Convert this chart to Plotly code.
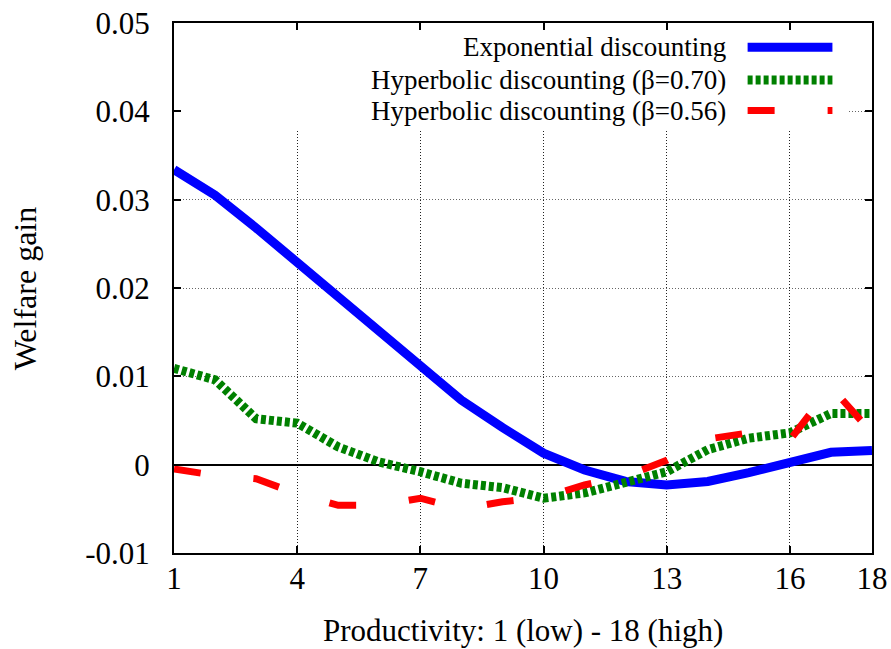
import plotly.graph_objects as go

productivity = list(range(1, 19))
exponential = [0.0334, 0.0305, 0.0268, 0.0229, 0.0189, 0.0149, 0.0111, 0.0073, 0.0042,
               0.0013, -0.0006, -0.0019, -0.0023, -0.0019, -0.0009, 0.0002, 0.0014, 0.0016]
hyper_070 = [0.0109, 0.0096, 0.0052, 0.0047, 0.0020, 0.0003, -0.0008, -0.0021, -0.0026,
             -0.0038, -0.0032, -0.0021, -0.0008, 0.0017, 0.0030, 0.0036, 0.0058, 0.0058]
hyper_056 = [-0.0005, -0.0012, -0.0016, -0.0033, -0.0046, -0.0046, -0.0038, -0.0050, -0.0042,
             -0.0037, -0.0023, -0.0013, 0.0005, 0.0029, 0.0036, 0.0028, 0.0088, 0.0036]
series_names = ["Exponential discounting", "Hyperbolic discounting (β=0.70)",
                "Hyperbolic discounting (β=0.56)"]
x_ticks = [1, 4, 7, 10, 13, 16, 18]
y_ticks = [-0.01, 0, 0.01, 0.02, 0.03, 0.04, 0.05]
y_tick_text = ["-0.01", "0", "0.01", "0.02", "0.03", "0.04", "0.05"]
x_title = "Productivity: 1 (low) - 18 (high)"
y_title = "Welfare gain"

styles = [dict(color="#0000ff", width=9, dash="solid"),
          dict(color="#008000", width=9, dash="5px,3px"),
          dict(color="#ff0000", width=7, dash="27px,53px")]

FONT = "Liberation Serif"
fig = go.Figure()
for name, ys, st in zip(series_names, [exponential, hyper_070, hyper_056], styles):
    fig.add_trace(go.Scatter(x=productivity, y=ys, mode="lines", name=name,
                             line=st, showlegend=False, hoverinfo="skip"))

# legend box (opaque) with text left of the sample, as in the reference
rows = [0.9542, 0.8925, 0.8349]
shapes = [dict(type="rect", xref="paper", yref="paper", x0=0.011, x1=0.966, y0=0.80, y1=0.984,
               fillcolor="white", line=dict(width=0), layer="above")]
annotations = []
for name, st, yr in zip(series_names, styles, rows):
    annotations.append(dict(xref="paper", yref="paper", x=0.7937, y=yr, xanchor="right",
                            yanchor="middle", text=name, showarrow=False,
                            font=dict(family=FONT, size=27, color="black")))
    shapes.append(dict(type="line", xref="paper", yref="paper", x0=0.8218, x1=0.9433,
                       y0=yr, y1=yr, line=dict(color=st["color"], width=st["width"],
                                               dash=st["dash"]), layer="above"))

annotations.append(dict(xref="paper", yref="paper", x=0.5, y=-0.146, xanchor="center",
                        yanchor="middle", text=x_title, showarrow=False, borderpad=0,
                        font=dict(family=FONT, size=31, color="black")))
annotations.append(dict(xref="paper", yref="paper", x=-0.213, y=0.5, xanchor="center",
                        yanchor="middle", text=y_title, showarrow=False, textangle=-90,
                        font=dict(family=FONT, size=32, color="black")))

fig.update_layout(
    width=891, height=649,
    margin=dict(l=174, r=19, t=23, b=96),
    plot_bgcolor="white", paper_bgcolor="white",
    font=dict(family=FONT, size=31, color="black"),
    shapes=shapes, annotations=annotations,
    xaxis=dict(range=[1, 18], tickvals=x_ticks, ticks="inside", ticklen=7, tickwidth=1.5,
               tickcolor="black", showline=True, linecolor="black", linewidth=2,
               mirror="ticks", showgrid=True, gridcolor="#222", griddash="1px,2px",
               gridwidth=1, zeroline=False, automargin=False, ticklabelstandoff=-3,
               tickfont=dict(family=FONT, size=31)),
    yaxis=dict(range=[-0.01, 0.05], tickvals=y_ticks, ticktext=y_tick_text, ticks="inside",
               ticklen=7, tickwidth=1.5, tickcolor="black", showline=True, linecolor="black",
               linewidth=2, mirror="ticks", showgrid=True, gridcolor="#666",
               griddash="1px,2px", gridwidth=1, zeroline=True, zerolinecolor="black",
               zerolinewidth=1.5, automargin=False, ticklabelstandoff=16,
               tickfont=dict(family=FONT, size=31)),
)
fig.write_html("out.html", config={"displayModeBar": False},
               post_script="document.body.style.margin='0px';")
